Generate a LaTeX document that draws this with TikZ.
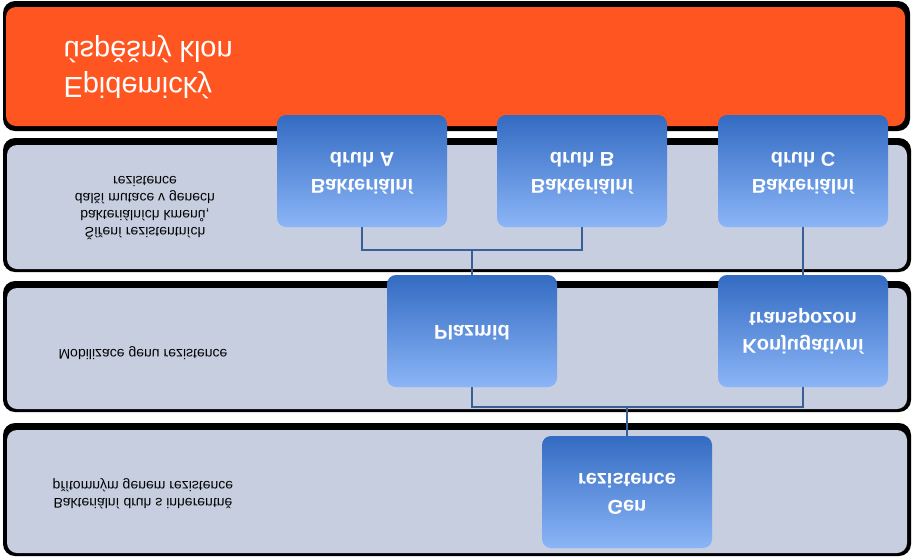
\documentclass[tikz,border=0pt]{standalone}
\usepackage{fontspec}
\setmainfont{Liberation Sans}
\usetikzlibrary{positioning}
\definecolor{pasmo}{HTML}{C6CEE0}
\definecolor{oranz}{HTML}{FF5520}
\definecolor{modrah}{HTML}{336BC2}
\definecolor{modrad}{HTML}{8BB5F7}
\definecolor{spoj}{HTML}{3A5F95}
\newcommand{\prevrat}[2][c]{\scalebox{1}[-1]{\begin{tabular}{@{}#1@{}}#2\end{tabular}}}
\tikzset{
  krabice/.style={rounded corners=9pt, top color=modrah, bottom color=modrad, draw=none,
    minimum width=170pt, minimum height=112pt, text=white, font=\bfseries\fontsize{20}{27}\selectfont, align=center},
  popis/.style={align=center, font=\fontsize{14}{17}\selectfont},
  spojnice/.style={spoj, line width=1.3pt}
}
\begin{document}
\begin{tikzpicture}[x=1pt, y=-1pt]
\useasboundingbox (0,0) rectangle (914,558);
\fill[white] (0,0) rectangle (914,558);
%%% Pasma
\fill[black, rounded corners=12pt] (3,1) rectangle (910,131);
\fill[oranz, rounded corners=10pt] (6,7) rectangle (905,126);
\foreach \yh/\yd in {145/272, 288/412, 430/556} {
  \fill[black, rounded corners=12pt] (3,\yh-7) rectangle (911,\yd);
  \fill[pasmo, rounded corners=10pt] (7,\yh) rectangle (907,\yd-3);
}
%%% Popisky
\node[text=white, font=\fontsize{29}{36}\selectfont, anchor=west] (klon) at (60,67) {\prevrat[l]{Epidemický\\úspěšný klon}};
\node[popis] (sireni) at (145,206) {\prevrat{Šíření rezistentních\\bakteriálních kmenů,\\další mutace v genech\\rezistence}};
\node[popis] (mobil) at (143,353) {\prevrat{Mobilizace genu rezistence}};
\node[popis] (inher) at (143,493) {\prevrat{Bakteriální druh s inherentně\\přítomným genem rezistence}};
%%% Krabice
\node[krabice] (druhA) at (362,171) {\prevrat{Bakteriální\\druh A}};
\node[krabice] (druhB) at (582,171) {\prevrat{Bakteriální\\druh B}};
\node[krabice] (druhC) at (803,171) {\prevrat{Bakteriální\\druh C}};
\node[krabice] (plazmid) at (472,331) {\prevrat{Plazmid}};
\node[krabice] (transpozon) at (803,331) {\prevrat{Konjugativní\\transpozon}};
\node[krabice] (gen) at (627,492) {\prevrat{Gen\\rezistence}};
%%% Spojnice
\coordinate (uzelAB) at (472,250);
\coordinate (uzelP) at (627,407);
\draw[spojnice] (druhA.south) |- (uzelAB) -| (druhB.south);
\draw[spojnice] (uzelAB) -- (plazmid.north);
\draw[spojnice] (druhC.south) -- (transpozon.north);
\draw[spojnice] (plazmid.south) |- (uzelP) -| (transpozon.south);
\draw[spojnice] (uzelP) -- (gen.north);
\end{tikzpicture}
\end{document}
